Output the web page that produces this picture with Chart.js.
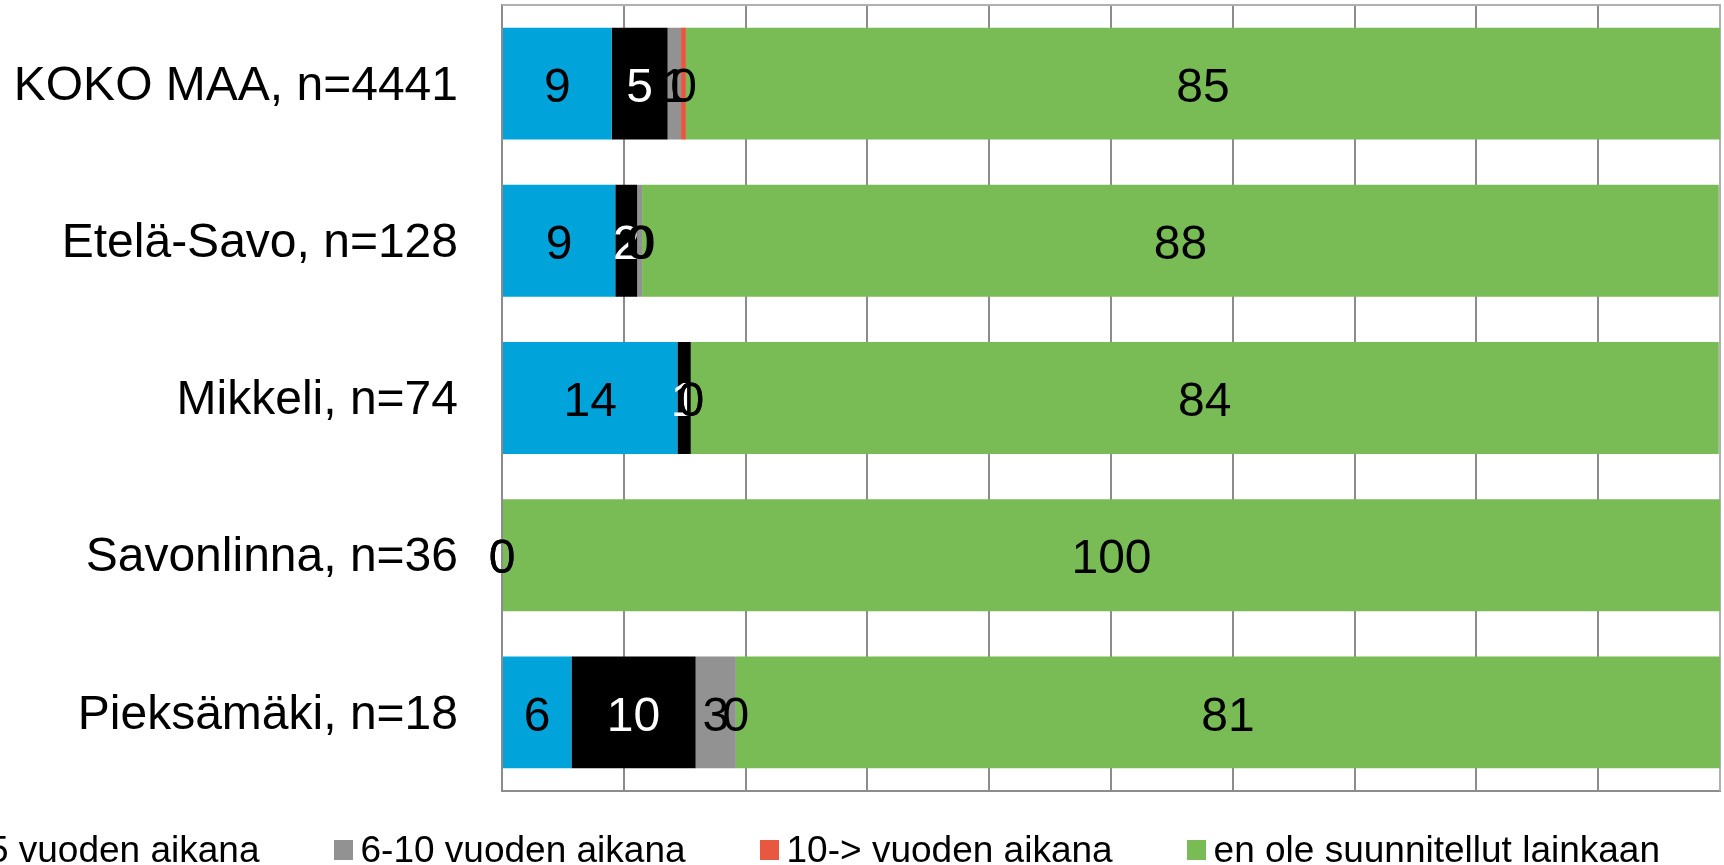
<!DOCTYPE html>
<html>
<head>
<meta charset="utf-8">
<script src="https://cdn.jsdelivr.net/npm/chart.js@4/dist/chart.umd.min.js"></script>
<style>
  html, body { margin: 0; padding: 0; background: #fff; overflow: hidden; }
  #wrap { position: relative; width: 1724px; height: 865px; }
  #legend {
    position: absolute; right: 64px; top: 829px;
    display: flex; white-space: nowrap;
    font-family: "Liberation Sans", Arial, sans-serif; font-size: 37px; color: #000;
    line-height: 42px;
  }
  #legend .item { display: flex; align-items: center; margin-left: 74px; }
  #legend .box { width: 19px; height: 20px; margin-right: 8px; }
</style>
</head>
<body>
<div id="wrap">
  <canvas id="chart" width="1724" height="865"></canvas>
  <div id="legend"></div>
</div>
<script>
  const categories = ["KOKO MAA, n=4441", "Etelä-Savo, n=128", "Mikkeli, n=74", "Savonlinna, n=36", "Pieksämäki, n=18"];
  const seriesNames = ["alle vuoden aikana", "1-5 vuoden aikana", "6-10 vuoden aikana", "10-> vuoden aikana", "en ole suunnitellut lainkaan"];
  const seriesColors = ["#00A3DA", "#000000", "#929292", "#E8573F", "#79BC56"];
  const labelColors = ["#000", "#fff", "#000", "#000", "#000"];

  const valNow = [9.0, 9.3, 14.4, 0, 5.7];
  const val1to5 = [4.6, 1.8, 1.1, 0, 10.2];
  const val6to10 = [1.1, 0.4, 0, 0, 3.3];
  const val10plus = [0.4, 0, 0, 0, 0];
  const valNever = [84.9, 88.4, 84.4, 100, 80.8];

  const seriesValues = [valNow, val1to5, val6to10, val10plus, valNever];
  const FONT = '"Liberation Sans", Arial, sans-serif';

  const valueLabels = {
    id: "valueLabels",
    afterDatasetsDraw(chart) {
      const ctx = chart.ctx;
      ctx.save();
      ctx.font = "48px " + FONT;
      ctx.textAlign = "center";
      ctx.textBaseline = "middle";
      chart.data.datasets.forEach((ds, i) => {
        const meta = chart.getDatasetMeta(i);
        ctx.fillStyle = labelColors[i];
        meta.data.forEach((bar, j) => {
          const v = ds.data[j];
          const cx = (bar.x + bar.base) / 2;
          ctx.fillText(String(Math.round(v)), cx, bar.y + 5);
        });
      });
      ctx.restore();
    }
  };

  const frame = {
    id: "frame",
    beforeDatasetsDraw(chart) {
      const a = chart.chartArea;
      const ctx = chart.ctx;
      ctx.save();
      ctx.strokeStyle = "#b0b0b0";
      ctx.lineWidth = 2;
      ctx.beginPath();
      ctx.moveTo(a.left, a.top);
      ctx.lineTo(a.right, a.top);
      ctx.lineTo(a.right, a.bottom);
      ctx.stroke();
      ctx.restore();
    }
  };

  new Chart(document.getElementById("chart"), {
    type: "bar",
    data: {
      labels: categories,
      datasets: seriesValues.map((vals, i) => ({
        label: seriesNames[i],
        data: vals,
        backgroundColor: seriesColors[i],
        borderWidth: 0,
        barPercentage: 0.712,
        categoryPercentage: 1
      }))
    },
    options: {
      indexAxis: "y",
      responsive: false,
      animation: false,
      layout: { padding: { top: 5, bottom: 74, right: 4, left: 0 } },
      plugins: {
        legend: { display: false },
        tooltip: { enabled: false }
      },
      scales: {
        x: {
          stacked: true,
          min: 0,
          max: 100,
          ticks: { display: false, stepSize: 10 },
          grid: { color: "#8c8c8c", lineWidth: 2, drawTicks: false },
          border: { display: true, color: "#8c8c8c", width: 2 },
          afterFit: (s) => { s.height = 0; s.paddingLeft = 0; s.paddingRight = 0; }
        },
        y: {
          stacked: true,
          ticks: { color: "#000", font: { family: FONT, size: 48 }, padding: 44, labelOffset: 3 },
          grid: { display: false, drawTicks: false },
          border: { display: true, color: "#8c8c8c", width: 2 },
          afterFit: (s) => { s.width = 502; s.paddingTop = 0; s.paddingBottom = 0; }
        }
      }
    },
    plugins: [frame, valueLabels]
  });

  const legend = document.getElementById("legend");
  seriesNames.forEach((name, i) => {
    const item = document.createElement("div");
    item.className = "item";
    const box = document.createElement("span");
    box.className = "box";
    box.style.background = seriesColors[i];
    const txt = document.createElement("span");
    txt.textContent = name;
    item.appendChild(box);
    item.appendChild(txt);
    legend.appendChild(item);
  });
</script>
</body>
</html>
